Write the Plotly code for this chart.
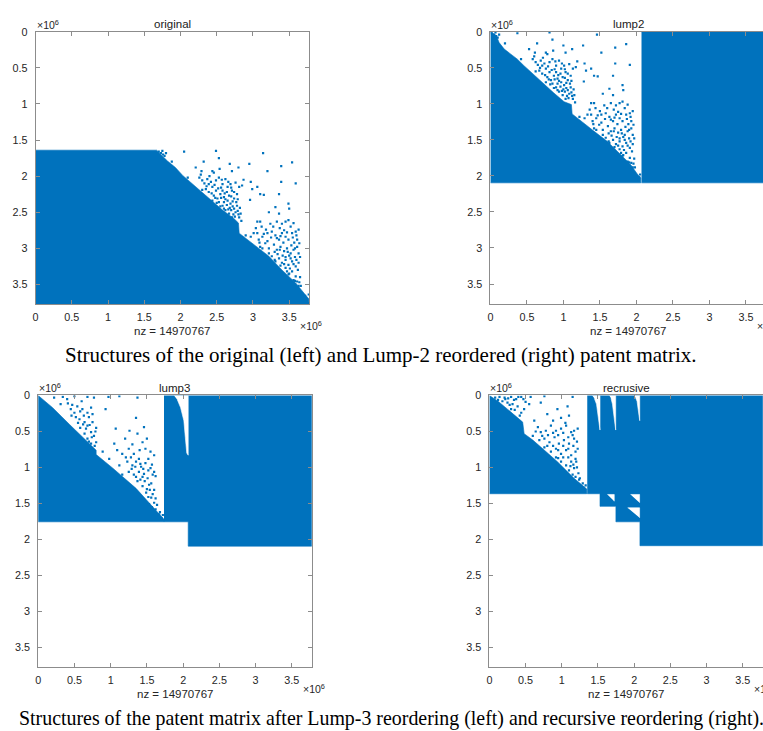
import plotly.graph_objects as go

W, H = 763, 731
N = 3.7748  # matrix dimension (x 1e6)
BLUE = "#0072BD"

tick_vals = [0, 0.5, 1, 1.5, 2, 2.5, 3, 3.5]
tick_text = ["0", "0.5", "1", "1.5", "2", "2.5", "3", "3.5"]
titles = ["original", "lump2", "lump3", "recrusive"]
nz_label = "nz = 14970767"
captions = [
    "Structures of the original (left) and Lump-2 reordered (right) patent matrix.",
    "Structures of the patent matrix after Lump-3 reordering (left) and recursive reordering (right).",
]

# ---------------- filled (dense) regions, (column, row) in units of 1e6 ----------------
orig_fill_x = [0, 1.67, 1.82, 1.93, 2.03, 2.21, 2.39, 2.58, 2.74, 2.80, 2.81, 2.99, 3.22, 3.40, 3.59, 3.72, 3.77, N, 0]
orig_fill_y = [1.64, 1.64, 1.79, 1.88, 1.99, 2.15, 2.31, 2.47, 2.59, 2.65, 2.79, 2.93, 3.11, 3.30, 3.48, 3.64, 3.70, N, N]

lump2_tri_x = [0, 0.08, 0.12, 0.19, 0.28, 0.37, 0.46, 0.60, 0.74, 0.87, 1.01, 1.11, 1.12, 1.24, 1.42, 1.60, 1.78, 1.92, 2.01, 2.06, 2.06, 0]
lump2_tri_y = [0, 0.05, 0.15, 0.24, 0.31, 0.38, 0.47, 0.60, 0.74, 0.85, 0.97, 1.01, 1.14, 1.24, 1.38, 1.52, 1.70, 1.84, 1.97, 2.03, 2.096, 2.096]
lump2_block_x = [2.07, N, N, 2.07]
lump2_block_y = [0, 0, 2.096, 2.096]

lump3_tri_x = [0, 0.20, 0.43, 0.62, 0.80, 0.80, 1.03, 1.35, 1.62, 1.71, 1.736, 1.736, 0]
lump3_tri_y = [0, 0.17, 0.40, 0.58, 0.76, 0.82, 1.01, 1.29, 1.60, 1.70, 1.72, 1.755, 1.755]
lump3_block_x = [1.736, N, N, 2.07, 2.07, 1.736]
lump3_block_y = [0, 0, 2.093, 2.093, 1.755, 1.755]
lump3_gap_x = [1.874, 2.07, 2.07, 2.05, 2.03, 2.01, 1.965, 1.92]
lump3_gap_y = [0, 0, 0.83, 0.80, 0.58, 0.35, 0.168, 0.06]

rec_tri_x = [0, 0.12, 0.25, 0.36, 0.46, 0.48, 0.60, 0.71, 0.94, 1.17, 1.31, 1.346, 1.346, 0]
rec_tri_y = [0, 0.08, 0.19, 0.28, 0.37, 0.53, 0.62, 0.716, 0.92, 1.15, 1.26, 1.30, 1.365, 1.365]
rec_block_x = [1.352, N, N, 2.08, 2.08, 1.748, 1.748, 1.528, 1.528, 1.352]
rec_block_y = [0, 0, 2.087, 2.087, 1.755, 1.755, 1.54, 1.54, 1.365, 1.365]
rec_gap_a_x = [1.42, 1.528, 1.528, 1.515, 1.50, 1.48, 1.45]
rec_gap_a_y = [0, 0, 0.48, 0.40, 0.25, 0.12, 0.04]
rec_gap_b_x = [1.657, 1.745, 1.745, 1.735, 1.72, 1.70, 1.68]
rec_gap_b_y = [0, 0, 0.48, 0.40, 0.25, 0.12, 0.04]
rec_gap_c_x = [2.00, 2.077, 2.077, 2.07, 2.06, 2.04, 2.02]
rec_gap_c_y = [0, 0, 0.35, 0.28, 0.18, 0.08, 0.03]
rec_tri1_x = [1.63, 1.725, 1.725]
rec_tri1_y = [1.375, 1.375, 1.47]
rec_tri2_x = [1.95, 2.075, 2.075]
rec_tri2_y = [1.375, 1.375, 1.49]
rec_tri3_x = [1.91, 2.075, 2.075]
rec_tri3_y = [1.56, 1.56, 1.70]

# ---------------- isolated nonzeros (column, row) in units of 1e6 ----------------
orig_nz = [
    (1.75, 1.65), (1.80, 1.68), (2.05, 1.66), (2.49, 1.65), (2.53, 1.75), (3.14, 1.68), (3.54, 1.81), (3.39, 1.86),
    (2.32, 1.80), (2.21, 1.88), (2.29, 1.93), (2.44, 1.93), (2.46, 1.95), (2.54, 1.90), (2.68, 1.83), (2.71, 1.93),
    (2.80, 1.88), (2.95, 1.83), (3.20, 1.93), (3.59, 2.10), (3.39, 2.08), (3.36, 2.25), (3.15, 2.26), (3.10, 2.25),
    (2.99, 2.18), (3.06, 2.15), (2.96, 2.33), (2.87, 2.05), (2.97, 2.08), (2.85, 2.13),
    (1.70, 1.66), (1.73, 1.68), (1.76, 1.70), (1.78, 1.72),
    (2.26, 2.02), (2.30, 2.06), (2.37, 2.04), (2.39, 2.11), (2.44, 2.15), (2.49, 2.06), (2.53, 2.02), (2.58, 2.11),
    (2.62, 2.04), (2.65, 2.15), (2.69, 2.11), (2.71, 2.20), (2.76, 2.09), (2.78, 2.25), (2.81, 2.15), (2.39, 2.22),
    (2.46, 2.27), (2.51, 2.31), (2.55, 2.25), (2.60, 2.29), (2.65, 2.34), (2.69, 2.38), (2.74, 2.31), (2.78, 2.41),
    (2.58, 2.41), (2.62, 2.47), (2.67, 2.52), (2.71, 2.57), (2.76, 2.50), (2.81, 2.57), (2.83, 2.52), (2.53, 2.36),
    (2.44, 2.34), (2.35, 2.18), (2.67, 2.27), (2.74, 2.45), (2.58, 2.20), (2.49, 2.20),
    (2.42, 2.08), (2.56, 2.16), (2.64, 2.22), (2.72, 2.35), (2.68, 2.44), (2.60, 2.36), (2.79, 2.48), (2.73, 2.53),
    (2.64, 2.40), (2.70, 2.28),
    (2.28, 1.98), (2.33, 2.10), (2.40, 2.00), (2.47, 2.12), (2.52, 2.17), (2.57, 2.05), (2.61, 2.24), (2.66, 2.08),
    (2.70, 2.16), (2.74, 2.22), (2.79, 2.32), (2.82, 2.44), (2.77, 2.36), (2.70, 2.47), (2.75, 2.56), (2.80, 2.53),
    (2.66, 2.46), (2.62, 2.32), (2.56, 2.30), (2.48, 2.30), (2.43, 2.24), (2.36, 2.14), (2.55, 2.42), (2.60, 2.45),
    (2.72, 2.42),
    (3.31, 2.43), (3.22, 2.50), (3.36, 2.52), (3.49, 2.38), (3.50, 2.45), (3.06, 2.63), (3.10, 2.63), (3.24, 2.66),
    (3.33, 2.63), (3.40, 2.66), (3.45, 2.63), (3.49, 2.61), (3.06, 2.79), (3.13, 2.84), (3.20, 2.79), (3.26, 2.77),
    (3.31, 2.82), (3.36, 2.88), (3.40, 2.79), (3.45, 2.84), (3.49, 2.88), (3.54, 2.79), (3.59, 2.77), (3.61, 2.88),
    (3.08, 2.88), (3.17, 2.93), (3.22, 3.00), (3.29, 2.95), (3.33, 3.02), (3.38, 2.98), (3.43, 3.04), (3.47, 3.00),
    (3.52, 3.07), (3.56, 3.02), (3.61, 2.98), (3.63, 3.07), (3.26, 3.11), (3.31, 3.18), (3.36, 3.14), (3.40, 3.20),
    (3.45, 3.16), (3.49, 3.23), (3.54, 3.18), (3.59, 3.25), (3.63, 3.20), (3.45, 3.27), (3.49, 3.36), (3.54, 3.32),
    (3.59, 3.39), (3.61, 3.46), (3.63, 3.52), (3.22, 3.07), (3.13, 3.00), (3.01, 2.79), (2.97, 2.84), (3.72, 3.66),
    (3.77, 3.64), (3.75, 3.71),
    (3.28, 2.70), (3.37, 2.72), (3.52, 2.70), (3.42, 2.92), (3.57, 2.92), (3.34, 3.08), (3.50, 3.10), (3.58, 3.12),
    (3.40, 3.35), (3.56, 3.44),
    (3.12, 2.70), (3.18, 2.74), (3.25, 2.85), (3.33, 2.86), (3.38, 2.83), (3.43, 2.75), (3.47, 2.78), (3.55, 2.85),
    (3.60, 2.82), (3.64, 2.93), (3.58, 3.00), (3.53, 2.96), (3.48, 3.05), (3.41, 3.10), (3.37, 3.02), (3.30, 3.05),
    (3.45, 3.12), (3.52, 3.14), (3.60, 3.16), (3.65, 3.12), (3.56, 3.22), (3.51, 3.28), (3.47, 3.32), (3.62, 3.30),
    (3.65, 3.40), (3.58, 3.45), (3.64, 3.47), (3.38, 3.24), (3.43, 3.22), (3.20, 2.90), (3.15, 2.80), (3.04, 2.72),
    (3.09, 2.92), (3.56, 2.65), (3.63, 2.74),
    (1.88, 1.80), (2.10, 2.02), (2.30, 2.19), (2.50, 2.37), (2.84, 2.62), (2.90, 2.82), (3.10, 2.98), (3.30, 3.16),
    (3.50, 3.35), (3.66, 3.52),
]

lump2_nz = [
    (0.07, 0.01), (0.12, 0.04), (0.37, 0.02), (0.81, 0.01), (0.85, 0.11), (1.46, 0.04), (1.86, 0.17), (1.71, 0.22),
    (0.64, 0.16), (0.53, 0.24), (0.61, 0.29), (0.76, 0.29), (0.78, 0.31), (0.86, 0.26), (1.00, 0.19), (1.03, 0.29),
    (1.12, 0.24), (1.27, 0.19), (1.52, 0.29), (1.91, 0.46), (1.71, 0.44), (1.68, 0.61), (1.47, 0.62), (1.42, 0.61),
    (1.31, 0.54), (1.38, 0.51), (1.28, 0.69), (1.19, 0.41), (1.29, 0.44), (1.17, 0.49),
    (0.02, 0.02), (0.05, 0.04), (0.08, 0.06), (0.10, 0.08),
    (0.58, 0.38), (0.62, 0.42), (0.69, 0.40), (0.71, 0.47), (0.76, 0.51), (0.81, 0.42), (0.85, 0.38), (0.90, 0.47),
    (0.94, 0.40), (0.97, 0.51), (1.01, 0.47), (1.03, 0.56), (1.08, 0.45), (1.10, 0.61), (1.13, 0.51), (0.71, 0.58),
    (0.78, 0.63), (0.83, 0.67), (0.87, 0.61), (0.92, 0.65), (0.97, 0.70), (1.01, 0.74), (1.06, 0.67), (1.10, 0.77),
    (0.90, 0.77), (0.94, 0.83), (0.99, 0.88), (1.03, 0.93), (1.08, 0.86), (1.13, 0.93), (1.15, 0.88), (0.85, 0.72),
    (0.76, 0.70), (0.67, 0.54), (0.99, 0.63), (1.06, 0.81), (0.90, 0.56), (0.81, 0.56),
    (0.74, 0.44), (0.88, 0.52), (0.96, 0.58), (1.04, 0.71), (1.00, 0.80), (0.92, 0.72), (1.11, 0.84), (1.05, 0.89),
    (0.96, 0.76), (1.02, 0.64),
    (0.60, 0.34), (0.65, 0.46), (0.72, 0.36), (0.79, 0.48), (0.84, 0.53), (0.89, 0.41), (0.93, 0.60), (0.98, 0.44),
    (1.02, 0.52), (1.06, 0.58), (1.11, 0.68), (1.14, 0.80), (1.09, 0.72), (1.02, 0.83), (1.07, 0.92), (1.12, 0.89),
    (0.98, 0.82), (0.94, 0.68), (0.88, 0.66), (0.80, 0.66), (0.75, 0.60), (0.68, 0.50), (0.87, 0.78), (0.92, 0.81),
    (1.04, 0.78),
    (1.63, 0.79), (1.54, 0.86), (1.68, 0.88), (1.81, 0.74), (1.82, 0.81), (1.38, 0.99), (1.42, 0.99), (1.56, 1.02),
    (1.65, 0.99), (1.72, 1.02), (1.77, 0.99), (1.81, 0.97), (1.38, 1.15), (1.45, 1.20), (1.52, 1.15), (1.58, 1.13),
    (1.63, 1.18), (1.68, 1.24), (1.72, 1.15), (1.77, 1.20), (1.81, 1.24), (1.86, 1.15), (1.91, 1.13), (1.93, 1.24),
    (1.40, 1.24), (1.49, 1.29), (1.54, 1.36), (1.61, 1.31), (1.65, 1.38), (1.70, 1.34), (1.75, 1.40), (1.79, 1.36),
    (1.84, 1.43), (1.88, 1.38), (1.93, 1.34), (1.95, 1.43), (1.58, 1.47), (1.63, 1.54), (1.68, 1.50), (1.72, 1.56),
    (1.77, 1.52), (1.81, 1.59), (1.86, 1.54), (1.91, 1.61), (1.95, 1.56), (1.77, 1.63), (1.81, 1.72), (1.86, 1.68),
    (1.91, 1.75), (1.93, 1.82), (1.95, 1.88), (1.54, 1.43), (1.45, 1.36), (1.33, 1.15), (1.29, 1.20), (2.04, 2.02),
    (2.05, 1.98), (2.03, 2.05),
    (1.60, 1.06), (1.69, 1.08), (1.84, 1.06), (1.74, 1.28), (1.89, 1.28), (1.66, 1.44), (1.82, 1.46), (1.90, 1.48),
    (1.72, 1.71), (1.88, 1.80),
    (1.44, 1.06), (1.50, 1.10), (1.57, 1.21), (1.65, 1.22), (1.70, 1.19), (1.75, 1.11), (1.79, 1.14), (1.87, 1.21),
    (1.92, 1.18), (1.96, 1.29), (1.90, 1.36), (1.85, 1.32), (1.80, 1.41), (1.73, 1.46), (1.69, 1.38), (1.62, 1.41),
    (1.77, 1.48), (1.84, 1.50), (1.92, 1.52), (1.97, 1.48), (1.88, 1.58), (1.83, 1.64), (1.79, 1.68), (1.94, 1.66),
    (1.97, 1.76), (1.90, 1.81), (1.96, 1.83), (1.70, 1.60), (1.75, 1.58), (1.52, 1.26), (1.47, 1.16), (1.36, 1.08),
    (1.41, 1.28), (1.88, 1.01), (1.95, 1.10),
    (0.20, 0.16), (0.42, 0.38), (0.62, 0.55), (0.82, 0.73), (1.16, 0.98), (1.22, 1.18), (1.42, 1.34), (1.62, 1.52),
    (1.82, 1.71), (1.98, 1.88),
]

lump3_nz = [
    (0.22, 0.03), (0.34, 0.02), (0.50, 0.01), (0.68, 0.02), (0.77, 0.03), (0.97, 0.02), (1.12, 0.01), (1.37, 0.03),
    (0.31, 0.12), (0.41, 0.11), (0.45, 0.19), (0.50, 0.24), (0.54, 0.15), (0.61, 0.19), (0.68, 0.24), (0.73, 0.17),
    (0.75, 0.26), (0.57, 0.33), (0.64, 0.37), (0.68, 0.42), (0.75, 0.37), (0.73, 0.51), (0.77, 0.56), (0.68, 0.60),
    (0.73, 0.67), (0.80, 0.65), (0.64, 0.53), (0.93, 0.19), (1.07, 0.46), (1.35, 0.31), (1.46, 0.44), (1.26, 0.49),
    (1.37, 0.53), (1.05, 0.67), (1.09, 0.76), (1.16, 0.81), (1.25, 0.74), (1.32, 0.81), (1.39, 0.88), (1.44, 0.65),
    (1.48, 0.74), (1.60, 0.83), (1.23, 0.92), (1.30, 0.97), (1.35, 0.92), (1.42, 0.99), (1.48, 0.94), (1.55, 1.01),
    (1.60, 1.06), (1.25, 1.06), (1.32, 1.10), (1.39, 1.06), (1.44, 1.13), (1.51, 1.15), (1.58, 1.10), (1.37, 1.19),
    (1.44, 1.26), (1.53, 1.24), (1.60, 1.31), (1.49, 1.35), (1.56, 1.42), (1.60, 1.49), (1.53, 1.51), (1.62, 1.58),
    (1.67, 1.65), (1.70, 1.70), (0.89, 0.78), (0.98, 0.88), (1.12, 0.97), (1.16, 1.10),
    (0.40, 0.05), (0.60, 0.08), (0.46, 0.28), (0.58, 0.45), (0.70, 0.30), (0.62, 0.62),
    (0.80, 0.45), (1.20, 0.60), (1.30, 0.68), (1.40, 0.76), (1.52, 0.88), (1.45, 1.02), (1.56, 1.22), (1.50, 1.30),
    (1.64, 1.52), (1.68, 1.62), (1.72, 1.66), (1.66, 1.68),
    (0.47, 0.13), (0.52, 0.30), (0.58, 0.22), (0.63, 0.28), (0.66, 0.46), (0.71, 0.41), (0.74, 0.58), (0.79, 0.50),
    (0.70, 0.64), (0.62, 0.40), (0.55, 0.38), (0.78, 0.70), (1.28, 0.86), (1.34, 0.99), (1.41, 0.95), (1.46, 1.09),
    (1.52, 1.04), (1.57, 0.96), (1.62, 1.12), (1.47, 1.19), (1.54, 1.31), (1.58, 1.37), (1.62, 1.43), (1.52, 1.41),
    (1.57, 1.55), (1.41, 1.17), (1.35, 1.13), (1.29, 1.02), (1.21, 0.86), (1.50, 0.60), (1.55, 0.78),
]

rec_nz = [
    (0.14, 0.02), (0.21, 0.03), (0.30, 0.02), (0.37, 0.05), (0.44, 0.02), (0.57, 0.02), (0.76, 0.01), (1.15, 0.02),
    (0.25, 0.10), (0.32, 0.12), (0.39, 0.15), (0.30, 0.19), (0.44, 0.24), (0.48, 0.19), (0.55, 0.12), (0.71, 0.10),
    (0.94, 0.19), (1.08, 0.15), (0.80, 0.26), (0.99, 0.31), (1.10, 0.28), (1.22, 0.46), (0.67, 0.44), (0.71, 0.51),
    (0.78, 0.49), (0.85, 0.42), (0.92, 0.49), (0.99, 0.46), (1.06, 0.42), (1.13, 0.51), (1.17, 0.49), (0.60, 0.56),
    (0.69, 0.62), (0.76, 0.60), (0.83, 0.65), (0.90, 0.58), (0.96, 0.67), (1.03, 0.62), (1.10, 0.67), (1.17, 0.60),
    (0.76, 0.72), (0.85, 0.78), (0.92, 0.74), (0.99, 0.81), (1.06, 0.76), (1.13, 0.83), (1.19, 0.78), (0.92, 0.86),
    (0.99, 0.92), (1.06, 0.97), (1.13, 0.92), (1.17, 1.01), (1.10, 1.04), (1.15, 1.10), (1.19, 1.13), (1.24, 1.17),
    (1.29, 1.22), (1.19, 0.88),
    (1.30, 1.28), (1.33, 1.25), (1.32, 1.33),
    (0.08, 0.03), (0.12, 0.06), (0.18, 0.08), (0.22, 0.05), (0.26, 0.04), (0.34, 0.06), (0.40, 0.02), (0.47, 0.05),
    (0.50, 0.09), (0.28, 0.13), (0.35, 0.20), (0.42, 0.28),
    (0.64, 0.50), (0.73, 0.56), (0.81, 0.55), (0.88, 0.52), (0.95, 0.55), (1.02, 0.52), (1.09, 0.58), (1.15, 0.55),
    (1.21, 0.64), (0.80, 0.70), (0.88, 0.70), (0.95, 0.76), (1.02, 0.70), (1.09, 0.74), (1.16, 0.70), (1.22, 0.74),
    (0.95, 0.87), (1.02, 0.86), (1.09, 0.86), (1.16, 0.96), (1.21, 1.00), (1.23, 1.08), (1.12, 0.98), (1.05, 0.38),
    (0.88, 0.35), (0.62, 0.35), (1.25, 1.15), (1.20, 0.92),
]

# ---------------- panel geometry (pixels in the 763 x 731 page) ----------------
panels = [
    dict(left=32.7, right=307.3, top=26.0, bottom=300.7, xmax=N, mirror_y=True),
    dict(left=489.3, right=763.0, top=26.0, bottom=300.3, xmax=3.734, mirror_y=False),
    dict(left=35.3, right=310.0, top=392.7, bottom=666.7, xmax=N, mirror_y=True),
    dict(left=488.3, right=763.0, top=392.7, bottom=666.7, xmax=3.78, mirror_y=False),
]


def px(x):
    return x / W


def py(y):
    return 1 - y / H


fig = go.Figure()


def axes_of(i):
    return ("x" if i == 0 else f"x{i+1}", "y" if i == 0 else f"y{i+1}")


def add_fill(i, xs, ys, color):
    xa, ya = axes_of(i)
    fig.add_trace(go.Scatter(
        x=xs, y=ys, mode="lines", fill="toself", fillcolor=color,
        line=dict(color=color, width=0.6), hoverinfo="skip", showlegend=False,
        xaxis=xa, yaxis=ya))


def add_dots(i, pts):
    xa, ya = axes_of(i)
    xs, ys = zip(*pts)
    fig.add_trace(go.Scatter(
        x=list(xs), y=list(ys), mode="markers",
        marker=dict(color=BLUE, size=2.2, symbol="square", line=dict(width=0)),
        hoverinfo="skip", showlegend=False, xaxis=xa, yaxis=ya))


def join(*polys):
    xs, ys = [], []
    for (a, b) in polys:
        xs += list(a) + [None]
        ys += list(b) + [None]
    return xs, ys


# panel 1
add_fill(0, orig_fill_x, orig_fill_y, BLUE)
add_dots(0, orig_nz)
# panel 2
add_fill(1, *join((lump2_tri_x, lump2_tri_y), (lump2_block_x, lump2_block_y)), BLUE)
add_dots(1, lump2_nz)
# panel 3
add_fill(2, *join((lump3_tri_x, lump3_tri_y), (lump3_block_x, lump3_block_y)), BLUE)
add_fill(2, lump3_gap_x, lump3_gap_y, "white")
add_dots(2, lump3_nz)
# panel 4
add_fill(3, *join((rec_tri_x, rec_tri_y), (rec_block_x, rec_block_y)), BLUE)
add_fill(3, *join((rec_gap_a_x, rec_gap_a_y), (rec_gap_b_x, rec_gap_b_y), (rec_gap_c_x, rec_gap_c_y),
                  (rec_tri1_x, rec_tri1_y), (rec_tri2_x, rec_tri2_y), (rec_tri3_x, rec_tri3_y)), "white")
add_dots(3, rec_nz)

FONT = "Liberation Sans, Arial, Helvetica, sans-serif"
TXT = "#262626"
LINE = "#8c8c8c"

layout = dict(
    width=W, height=H, margin=dict(l=0, r=0, t=0, b=0),
    paper_bgcolor="white", plot_bgcolor="white", showlegend=False,
    font=dict(family=FONT, color=TXT, size=11),
)
annotations = []
for i, p in enumerate(panels):
    sfx = "" if i == 0 else str(i + 1)
    layout["xaxis" + sfx] = dict(
        domain=[px(p["left"]), px(p["right"])], range=[0, p["xmax"]], anchor="y" + sfx,
        tickvals=tick_vals, ticktext=tick_text, ticks="inside", ticklen=4, tickcolor=LINE, tickwidth=1,
        showline=True, linecolor=LINE, linewidth=1, mirror="ticks", ticklabelstandoff=3,
        showgrid=False, zeroline=False, tickfont=dict(size=10.8, color=TXT, family=FONT),
        fixedrange=True,
    )
    layout["yaxis" + sfx] = dict(
        domain=[py(p["bottom"]), py(p["top"])], range=[N, 0], anchor="x" + sfx,
        tickvals=tick_vals, ticktext=tick_text, ticks="inside", ticklen=4, tickcolor=LINE, tickwidth=1,
        showline=True, linecolor=LINE, linewidth=1, mirror="ticks" if p["mirror_y"] else False,
        ticklabelstandoff=5,
        showgrid=False, zeroline=False, tickfont=dict(size=10.8, color=TXT, family=FONT),
        fixedrange=True,
    )
    unit = (p["right"] - p["left"]) / p["xmax"]
    full_right = p["left"] + N * unit
    cx = (p["left"] + full_right) / 2
    annotations += [
        dict(text=titles[i], x=px(cx), y=py(p["top"] - 8), xref="paper", yref="paper",
             showarrow=False, xanchor="center", yanchor="middle", font=dict(size=11.5, color="#1a1a1a")),
        dict(text="×10<sup>6</sup>", x=px(p["left"] - 1), y=py(p["top"] + 1), xref="paper", yref="paper",
             showarrow=False, xanchor="left", yanchor="bottom", font=dict(size=10.5, color=TXT)),
        dict(text=nz_label, x=px(cx), y=py(p["bottom"] + 27), xref="paper", yref="paper",
             showarrow=False, xanchor="center", yanchor="middle", font=dict(size=11.5, color=TXT)),
        dict(text="×10<sup>6</sup>", x=px(full_right - 11), y=py(p["bottom"] + 30), xref="paper", yref="paper",
             showarrow=False, xanchor="left", yanchor="bottom", font=dict(size=10.5, color=TXT)),
    ]

SERIF = "Liberation Serif, Times New Roman, serif"
annotations += [
    dict(text=captions[0], x=px(379.5), y=py(352), xref="paper", yref="paper", showarrow=False,
         xanchor="center", yanchor="middle", font=dict(size=21, color="black", family=SERIF)),
    dict(text=captions[1], x=px(390.5), y=py(718), xref="paper", yref="paper", showarrow=False,
         xanchor="center", yanchor="middle", font=dict(size=19.9, color="black", family=SERIF)),
]
layout["annotations"] = annotations
fig.update_layout(**layout)

fig.write_html("out.html")
